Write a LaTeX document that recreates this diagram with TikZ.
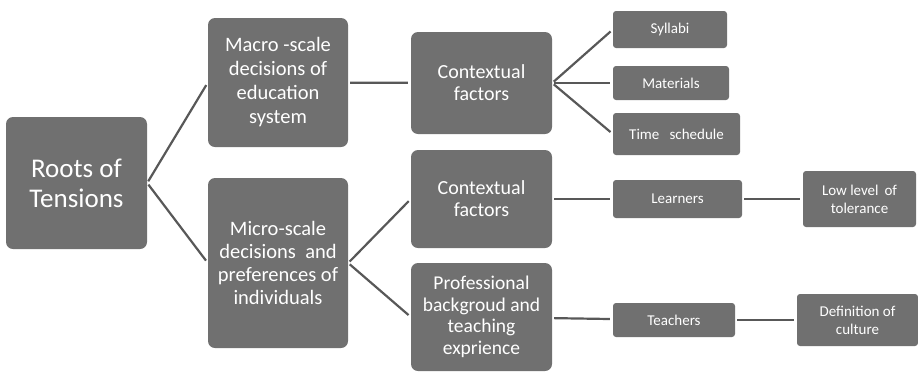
\documentclass[tikz,border=0pt]{standalone}
\usepackage{fontspec}
\setmainfont{Carlito}
\definecolor{boxgray}{RGB}{112,112,112}
\definecolor{linegray}{RGB}{88,88,88}

\begin{document}
\begin{tikzpicture}[x=1pt, y=-1pt,
	box/.style={fill=boxgray, text=white, align=center, rounded corners=7pt, inner sep=0pt},
	leaf/.style={box, rounded corners=3pt, font=\fontsize{15}{18}\selectfont},
	link/.style={linegray, line width=2.2pt, shorten <=2pt, shorten >=3pt}]
	\useasboundingbox (0,0) rectangle (918,373);

	\node[box, minimum width=141pt, minimum height=132pt, font=\fontsize{27}{30}\selectfont] (root) at (76.5,183) {Roots of\\Tensions};

	\node[box, minimum width=140pt, minimum height=129pt, font=\fontsize{20.5}{24}\selectfont] (macro) at (278,82.5) {Macro -scale\\decisions of\\education\\system};
	\node[box, minimum width=140pt, minimum height=170pt, font=\fontsize{20.5}{23}\selectfont] (micro) at (278,263) {Micro-scale\\decisions \ and\\preferences of\\individuals};

	\node[box, minimum width=141pt, minimum height=102pt, font=\fontsize{20}{22}\selectfont] (context1) at (481.5,83) {Contextual\\factors};
	\node[box, minimum width=141pt, minimum height=98pt, font=\fontsize{20}{22}\selectfont] (context2) at (481.5,199) {Contextual\\factors};
	\node[box, minimum width=141pt, minimum height=108pt, font=\fontsize{19.5}{21.5}\selectfont] (profbg) at (481.5,317) {Professional\\backgroud and\\teaching\\exprience};

	\node[leaf, minimum width=114pt, minimum height=37pt] (syllabi) at (670,29.5) {Syllabi};
	\node[leaf, minimum width=116pt, minimum height=34pt] (materials) at (671,83) {Materials};
	\node[leaf, minimum width=127pt, minimum height=42pt] (timesched) at (676.5,134) {Time \ \ schedule};
	\node[leaf, minimum width=129pt, minimum height=38pt] (learners) at (677.5,199) {Learners};
	\node[leaf, minimum width=122pt, minimum height=34pt] (teachers) at (674,320) {Teachers};
	\node[leaf, minimum width=113pt, minimum height=56pt] (tolerance) at (859.5,199) {Low level \,of\\tolerance};
	\node[leaf, minimum width=121pt, minimum height=52pt] (culture) at (857.5,320) {Definition of\\culture};

	\draw[link] (root.east) -- (macro.west);
	\draw[link] (root.east) -- (micro.west);
	\draw[link] (macro) -- (context1);
	\draw[link] (micro.east) -- (context2.west);
	\draw[link] (micro.east) -- (profbg.west);
	\draw[link] (context1.east) -- (syllabi.west);
	\draw[link] (context1.east) -- (materials.west);
	\draw[link] (context1.east) -- (timesched.west);
	\draw[link] (context2) -- (learners);
	\draw[link] (learners) -- (tolerance);
	\draw[link] (profbg) -- (teachers);
	\draw[link] (teachers) -- (culture);
\end{tikzpicture}
\end{document}
